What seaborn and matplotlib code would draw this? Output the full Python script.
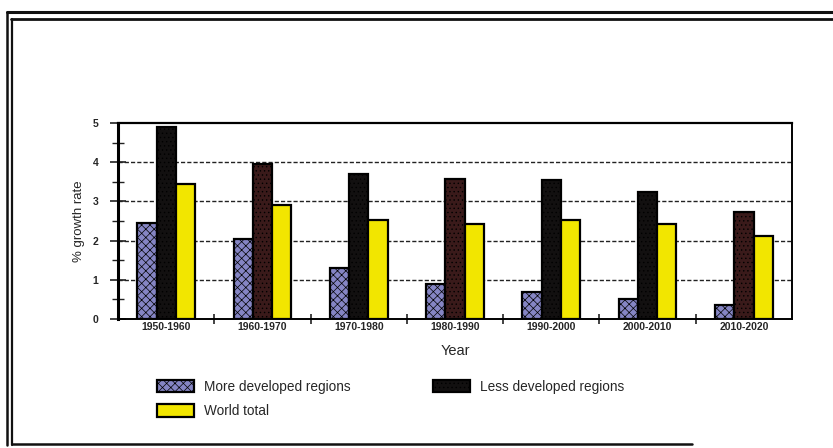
import matplotlib
matplotlib.use("Agg")
import matplotlib.pyplot as plt
from matplotlib.lines import Line2D
from matplotlib.ticker import MultipleLocator, FixedLocator
import seaborn as sns
import pandas as pd

# Population growth rate by decade
periods = ["1950-1960", "1960-1970", "1970-1980", "1980-1990",
           "1990-2000", "2000-2010", "2010-2020"]
more_developed = [2.45, 2.03, 1.30, 0.90, 0.69, 0.52, 0.35]
less_developed = [4.90, 3.95, 3.70, 3.57, 3.55, 3.25, 2.72]
world_total = [3.45, 2.90, 2.52, 2.43, 2.52, 2.43, 2.12]
series_names = ["More developed regions", "Less developed regions", "World total"]

df = pd.DataFrame({
    "Year": periods * 3,
    "rate": more_developed + less_developed + world_total,
    "series": [series_names[0]] * 7 + [series_names[1]] * 7 + [series_names[2]] * 7,
})

sns.set_style("white")
plt.rcParams["font.family"] = ["Liberation Sans", "DejaVu Sans"]
plt.rcParams["hatch.linewidth"] = 0.5

fig = plt.figure(figsize=(8.33, 4.48), dpi=100)
ax = fig.add_axes([0.1417, 0.288, 0.8091, 0.4375])

palette = {series_names[0]: "#8585c4", series_names[1]: "#141010",
           series_names[2]: "#f2e600"}
sns.barplot(data=df, x="Year", y="rate", hue="series", palette=palette,
            hue_order=series_names, order=periods, width=0.6, gap=0,
            edgecolor="black", linewidth=1.6, saturation=1, ax=ax,
            legend=False)

# textured fills
for p in ax.containers[0]:
    p.set_hatch("xxxx")
less_shades = ["#121010", "#3a1a1a", "#121010", "#3a1a1a",
               "#121010", "#121010", "#3a1a1a"]
for p, c in zip(ax.containers[1], less_shades):
    p.set_facecolor(c)
    p.set_hatch("....")

ax.set_ylim(0, 5)
ax.set_xlim(-0.5, len(periods) - 0.5)
ax.yaxis.set_major_locator(MultipleLocator(1))
ax.yaxis.set_minor_locator(MultipleLocator(0.5))
ax.xaxis.set_minor_locator(FixedLocator([i + 0.5 for i in range(len(periods) - 1)]))

for y in [1, 2, 3, 4]:
    ax.axhline(y, color="#222222", lw=1.0, ls=(0, (3, 1.5)), zorder=0)

for side in ["left", "bottom", "top", "right"]:
    ax.spines[side].set_visible(True)
    ax.spines[side].set_color("black")
ax.spines["left"].set_linewidth(2.2)
ax.spines["bottom"].set_linewidth(1.4)
ax.spines["top"].set_linewidth(1.6)
ax.spines["right"].set_linewidth(1.4)

ax.tick_params(left=True, bottom=True, which="both", color="#222222")
ax.tick_params(axis="y", which="major", direction="inout", length=12, width=1.2,
               labelsize=7.5, pad=8)
ax.tick_params(axis="y", which="minor", direction="inout", length=9, width=1.0)
ax.tick_params(axis="x", which="major", length=0, labelsize=7.5, pad=2)
ax.tick_params(axis="x", which="minor", direction="inout", length=7, width=1.2)
for lbl in ax.get_yticklabels() + ax.get_xticklabels():
    lbl.set_fontweight("bold")

ax.set_ylabel("% growth rate", fontsize=9.5, labelpad=6)
ax.set_xlabel("Year", fontsize=10.5, labelpad=9)

# legend
handles = [ax.containers[0][0], ax.containers[2][0], ax.containers[1][0]]
labels = [series_names[0], series_names[2], series_names[1]]
leg = fig.legend(handles, labels, loc="upper left", bbox_to_anchor=(0.189, 0.152),
                 ncol=2, frameon=False, fontsize=9.8, handlelength=2.7,
                 handleheight=1.0, handletextpad=0.7, columnspacing=6.1,
                 labelspacing=0.75, borderaxespad=0, borderpad=0)
leg.get_patches()[2].set_facecolor("#121010")

# double frame around the figure
W, H = 833, 448
def fx(x):
    return x / W
def fy(y):
    return 1 - y / H
frame_lines = [
    ([fx(7), fx(833)], [fy(12), fy(12)], 2.2),
    ([fx(11), fx(833)], [fy(19.5), fy(19.5)], 2.0),
    ([fx(7), fx(7)], [fy(12), fy(445)], 1.8),
    ([fx(11.5), fx(11.5)], [fy(19.5), fy(445)], 1.6),
    ([fx(11.5), fx(692)], [fy(444), fy(444)], 1.8),
]
for xs, ys, lw in frame_lines:
    fig.add_artist(Line2D(xs, ys, color="#111111", lw=lw, transform=fig.transFigure))

fig.savefig("out.png", dpi=100, facecolor="white")
